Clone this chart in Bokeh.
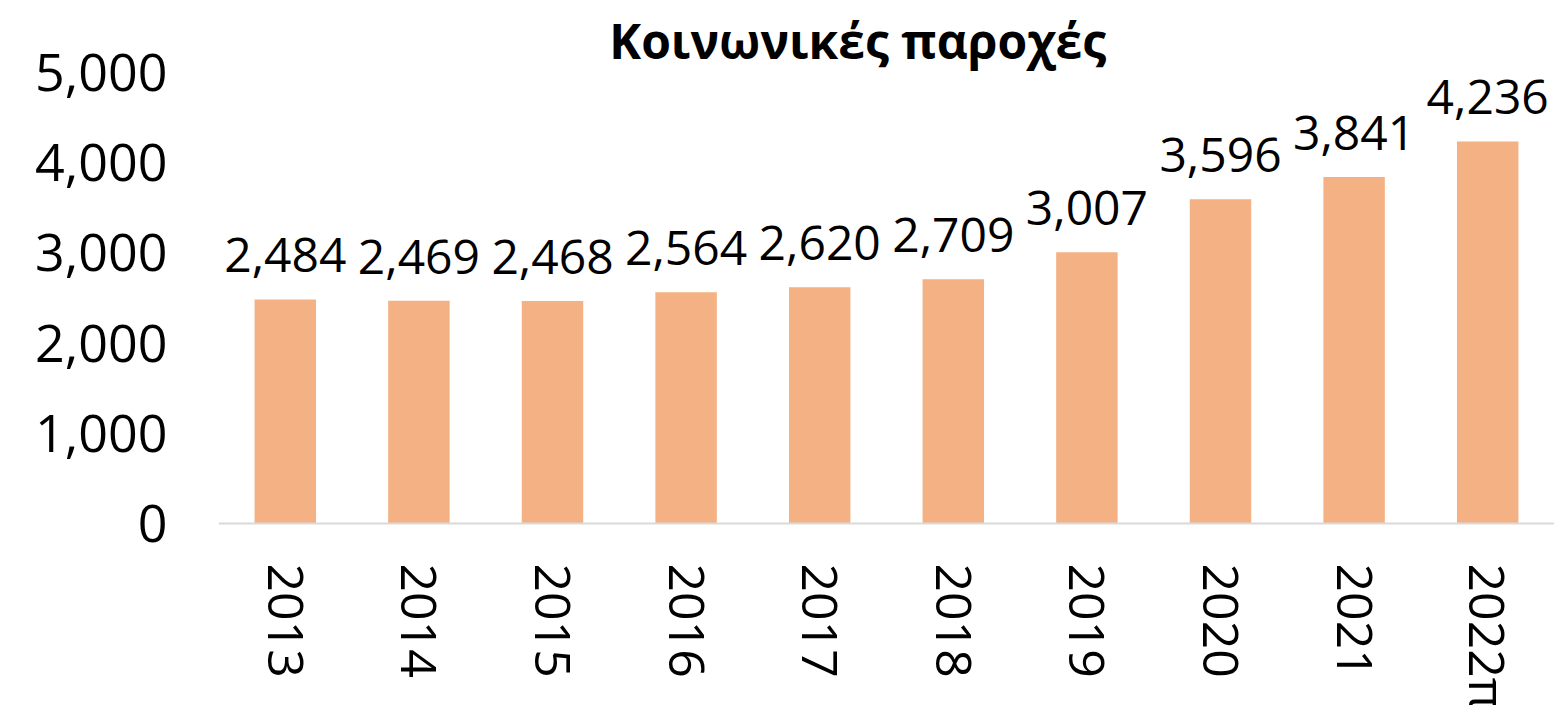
import math
from bokeh.plotting import figure
from bokeh.models import ColumnDataSource, FactorRange, Range1d, FixedTicker, NumeralTickFormatter, Span
from bokeh.core.properties import value
from bokeh.embed import file_html
from bokeh.resources import INLINE

years = ["2013", "2014", "2015", "2016", "2017", "2018", "2019", "2020", "2021", "2022π"]
benefits = [2484, 2469, 2468, 2564, 2620, 2709, 3007, 3596, 3841, 4236]
y_ticks = [0, 1000, 2000, 3000, 4000, 5000]
title_text = "Κοινωνικές παροχές"

FONT = "Open Sans"

src = ColumnDataSource(dict(
    year=years,
    val=benefits,
    lab=[f"{v:,}" for v in benefits],
    zero=[0] * len(years),
))

# frame spans the full height: 0 sits 523px from the top, 5000 sits 72px from the top
PX_PER_UNIT = 451 / 5000
p = figure(
    width=1554, height=705,
    x_range=FactorRange(*years, range_padding=0),
    y_range=Range1d(-182 / PX_PER_UNIT, 523 / PX_PER_UNIT),
    output_backend="svg", toolbar_location=None,
    min_border_left=218, min_border_right=0, min_border_top=0, min_border_bottom=0,
)

p.vbar(x="year", top="val", width=0.46, source=src, color="#F4B183", line_color=None)

p.add_layout(Span(location=0, dimension="width", line_color="#D9D9D9", line_width=2))

# value labels
p.text(x="year", y="val", text="lab", source=src, text_align="center",
       text_baseline="middle", y_offset=-44,
       text_font=value(FONT), text_font_size="48px", text_color="#000000")

# category labels, rotated clockwise
p.text(x="year", y="zero", text="year", source=src, text_align="left",
       text_baseline="middle", angle=-math.pi / 2, y_offset=40,
       text_font=value(FONT), text_font_size="50px", text_color="#000000")

# title
p.text(x=[years[4]], y=[y_ticks[-1]], text=[title_text], text_align="center",
       text_baseline="middle", x_offset=38, y_offset=-32,
       text_font=value(FONT), text_font_style="bold", text_font_size="48px",
       text_color="#000000")

p.outline_line_color = None
p.grid.grid_line_color = None
p.xaxis.visible = False

p.yaxis.ticker = FixedTicker(ticks=y_ticks)
p.yaxis.formatter = NumeralTickFormatter(format="0,0")
p.yaxis.axis_line_color = None
p.yaxis.major_tick_line_color = None
p.yaxis.minor_tick_line_color = None
p.yaxis.major_label_standoff = 45
p.yaxis.major_label_text_font = FONT
p.yaxis.major_label_text_font_size = "52px"
p.yaxis.major_label_text_color = "#000000"

open("out.html", "w").write(file_html(p, INLINE))
